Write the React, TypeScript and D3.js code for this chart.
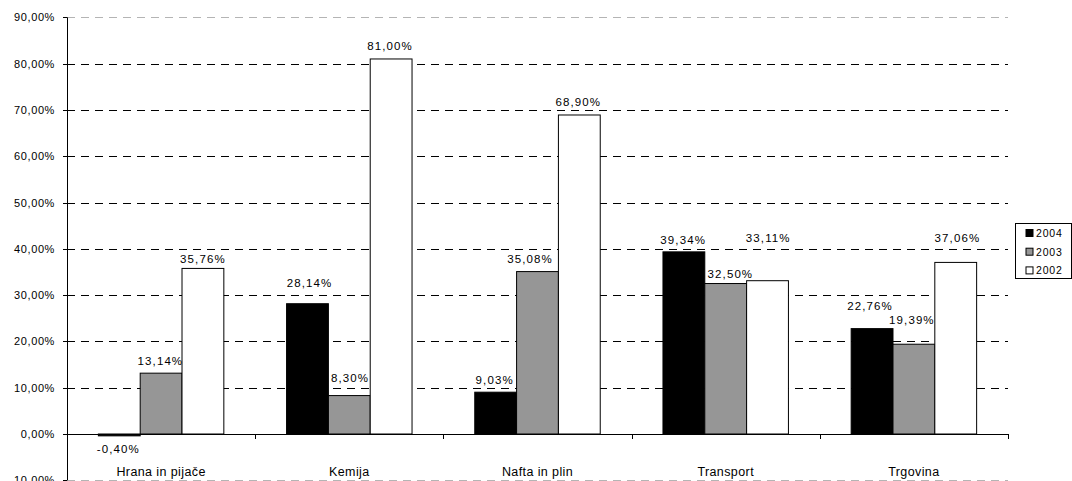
import React from "react";
import * as d3 from "d3";

const categories = ["Hrana in pijače", "Kemija", "Nafta in plin", "Transport", "Trgovina"];
const seriesNames = ["2004", "2003", "2002"];
const values2004 = [-0.4, 28.14, 9.03, 39.34, 22.76];
const values2003 = [13.14, 8.3, 35.08, 32.5, 19.39];
const values2002 = [35.76, 81.0, 68.9, 33.11, 37.06];
const yTicks = [-10, 0, 10, 20, 30, 40, 50, 60, 70, 80, 90];
const seriesColors = ["#000000", "#969696", "#ffffff"];

// hand-placed label nudges [dx, dy] per series, per category
const labelNudge2004: [number, number][] = [[-1, 0], [2, -8.7], [-1, 0], [-0.7, 0], [-2, -11]];
const labelNudge2003: [number, number][] = [[-0.7, 0], [0.7, -6], [-7.5, -1], [4.7, 2.5], [-2, -12]];
const labelNudge2002: [number, number][] = [[0, 3], [-1, -0.5], [-1, -1], [0.7, -31], [1.7, -12.7]];

const W = 1072;
const H = 481;
const left = 67;
const right = 1008;
const top = 17.3;
const zeroY = 434;

const fmt = (v: number) => v.toFixed(2).replace(".", ",") + "%";

export default function App() {
  const series = [values2004, values2003, values2002];
  const nudges = [labelNudge2004, labelNudge2003, labelNudge2002];
  const x0 = d3.scaleBand<string>().domain(categories).range([left, right]).paddingInner(0).paddingOuter(0);
  const step = x0.bandwidth();
  const barW = step / 4.5;
  const x1 = d3
    .scaleBand<string>()
    .domain(seriesNames)
    .range([0.75 * barW, 0.75 * barW + 3 * barW]);
  const y = d3.scaleLinear().domain([0, 90]).range([zeroY, top]);
  const font = "Arial, 'Liberation Sans', sans-serif";

  return (
    <div style={{ position: "fixed", left: 0, top: 0 }}>
      <svg width={W} height={H} style={{ display: "block", background: "#fff" }}>
        {/* gridlines */}
        {yTicks.map((t) =>
          t === 0 ? null : (
            <line
              key={"g" + t}
              x1={left}
              x2={right}
              y1={Math.round(y(t)) + 0.5}
              y2={Math.round(y(t)) + 0.5}
              stroke={t === 90 || t === -10 ? "#b4b4b4" : "#000"}
              strokeWidth={1}
              strokeDasharray="8,6"
            />
          )
        )}
        {/* bars */}
        {categories.map((c, ci) =>
          series.map((vals, si) => {
            const v = vals[ci];
            const bx = (x0(c) as number) + (x1(seriesNames[si]) as number);
            const y0 = y(Math.max(0, v));
            const y1 = y(Math.min(0, v));
            return (
              <rect
                key={c + si}
                x={bx}
                y={y0}
                width={x1.bandwidth()}
                height={Math.max(1, y1 - y0)}
                fill={seriesColors[si]}
                stroke="#000"
                strokeWidth={1}
              />
            );
          })
        )}
        {/* value labels */}
        {categories.map((c, ci) =>
          series.map((vals, si) => {
            const v = vals[ci];
            const [dx, dy] = nudges[si][ci];
            const cx = (x0(c) as number) + (x1(seriesNames[si]) as number) + x1.bandwidth() / 2 + dx;
            const ty = (v >= 0 ? y(v) - 8 : y(v) + 17) + dy;
            return (
              <text
                key={"l" + c + si}
                x={cx}
                y={ty}
                textAnchor="middle"
                fontFamily={font}
                fontSize={11.5}
                letterSpacing={1.1}
                fill="#000"
              >
                {fmt(v)}
              </text>
            );
          })
        )}
        {/* axes */}
        <line x1={left + 0.5} x2={left + 0.5} y1={top} y2={y(-10)} stroke="#000" strokeWidth={1} />
        <line x1={left} x2={right} y1={zeroY + 0.5} y2={zeroY + 0.5} stroke="#000" strokeWidth={1} />
        {yTicks.map((t) => (
          <g key={"t" + t}>
            <line x1={left - 4} x2={left} y1={Math.round(y(t)) + 0.5} y2={Math.round(y(t)) + 0.5} stroke="#000" />
            <text
              x={55}
              y={y(t) + 4}
              textAnchor="end"
              fontFamily={font}
              fontSize={11}
              letterSpacing={0.6}
              fill="#000"
            >
              {t.toFixed(2).replace(".", ",") + "%"}
            </text>
          </g>
        ))}
        {categories.map((c, i) => (
          <line
            key={"ct" + i}
            x1={Math.round((x0(c) as number) + step) + 0.5}
            x2={Math.round((x0(c) as number) + step) + 0.5}
            y1={zeroY}
            y2={zeroY + 5}
            stroke="#000"
          />
        ))}
        {categories.map((c) => (
          <text
            key={"cl" + c}
            x={(x0(c) as number) + step / 2}
            y={476}
            textAnchor="middle"
            fontFamily={font}
            fontSize={12.5}
            letterSpacing={0.4}
            fill="#000"
          >
            {c}
          </text>
        ))}
        {/* legend */}
        <rect x={1015.5} y={223.5} width={56} height={55} fill="#fff" stroke="#000" strokeWidth={1} />
        {seriesNames.map((s, i) => (
          <g key={"lg" + s} transform={`translate(1026,${233 + i * 18.7})`}>
            <rect x={0} y={-3.5} width={7} height={7} fill={seriesColors[i]} stroke="#000" strokeWidth={1} />
            <text x={10} y={4} fontFamily={font} fontSize={10.5} letterSpacing={0.8} fill="#000">
              {s}
            </text>
          </g>
        ))}
      </svg>
    </div>
  );
}
